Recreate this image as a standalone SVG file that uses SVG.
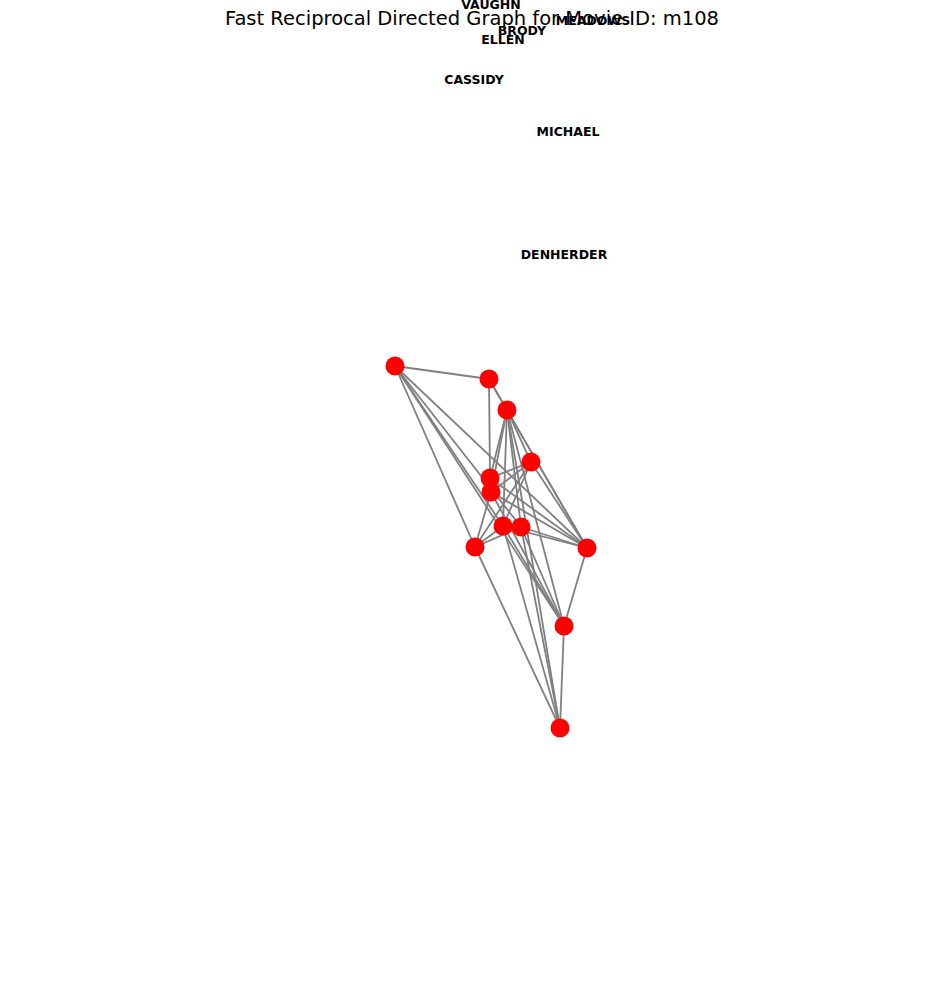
<svg xmlns="http://www.w3.org/2000/svg" width="944" height="986" viewBox="0 0 944 986">
<style>
.e{stroke:#808080;stroke-width:1.8;fill:none}
.n{fill:#ff0000}
.lbl{font-family:"DejaVu Sans",sans-serif;font-weight:bold;font-size:12.5px;text-anchor:middle;fill:#000}
.title{font-family:"DejaVu Sans",sans-serif;font-size:19.5px;text-anchor:middle;fill:#000}
</style>
<rect width="944" height="986" fill="#fff"/>
<text class="title" x="472" y="25">Fast Reciprocal Directed Graph for Movie ID: m108</text>
<g id="connectors">
<line class="e" x1="395" y1="366" x2="489" y2="379"/>
<line class="e" x1="395" y1="366" x2="475" y2="547"/>
<line class="e" x1="395" y1="366" x2="503" y2="526"/>
<line class="e" x1="395" y1="366" x2="521" y2="527"/>
<line class="e" x1="395" y1="366" x2="587" y2="548"/>
<line class="e" x1="395" y1="366" x2="564" y2="626"/>
<line class="e" x1="489" y1="379" x2="507" y2="410"/>
<line class="e" x1="489" y1="379" x2="587" y2="548"/>
<line class="e" x1="489" y1="379" x2="490" y2="478"/>
<line class="e" x1="507" y1="410" x2="490" y2="478"/>
<line class="e" x1="507" y1="410" x2="491" y2="492"/>
<line class="e" x1="507" y1="410" x2="503" y2="526"/>
<line class="e" x1="507" y1="410" x2="521" y2="527"/>
<line class="e" x1="507" y1="410" x2="531" y2="462"/>
<line class="e" x1="507" y1="410" x2="587" y2="548"/>
<line class="e" x1="507" y1="410" x2="564" y2="626"/>
<line class="e" x1="507" y1="410" x2="560" y2="728"/>
<line class="e" x1="531" y1="462" x2="490" y2="478"/>
<line class="e" x1="531" y1="462" x2="491" y2="492"/>
<line class="e" x1="531" y1="462" x2="503" y2="526"/>
<line class="e" x1="531" y1="462" x2="475" y2="547"/>
<line class="e" x1="531" y1="462" x2="587" y2="548"/>
<line class="e" x1="490" y1="478" x2="587" y2="548"/>
<line class="e" x1="491" y1="492" x2="475" y2="547"/>
<line class="e" x1="491" y1="492" x2="587" y2="548"/>
<line class="e" x1="491" y1="492" x2="564" y2="626"/>
<line class="e" x1="503" y1="526" x2="475" y2="547"/>
<line class="e" x1="503" y1="526" x2="587" y2="548"/>
<line class="e" x1="503" y1="526" x2="564" y2="626"/>
<line class="e" x1="503" y1="526" x2="560" y2="728"/>
<line class="e" x1="521" y1="527" x2="587" y2="548"/>
<line class="e" x1="521" y1="527" x2="564" y2="626"/>
<line class="e" x1="521" y1="527" x2="560" y2="728"/>
<line class="e" x1="475" y1="547" x2="521" y2="527"/>
<line class="e" x1="475" y1="547" x2="560" y2="728"/>
<line class="e" x1="587" y1="548" x2="564" y2="626"/>
<line class="e" x1="564" y1="626" x2="560" y2="728"/>
</g>
<g id="nodes">
<g id="n1"><circle class="n" cx="395" cy="366" r="9.5"/></g>
<g id="n2"><circle class="n" cx="489" cy="379" r="9.5"/></g>
<g id="n3"><circle class="n" cx="507" cy="410" r="9.5"/></g>
<g id="n4"><circle class="n" cx="531" cy="462" r="9.5"/></g>
<g id="n5"><circle class="n" cx="490" cy="478" r="9.5"/></g>
<g id="n6"><circle class="n" cx="491" cy="492" r="9.5"/></g>
<g id="n7"><circle class="n" cx="503" cy="526" r="9.5"/></g>
<g id="n8"><circle class="n" cx="521" cy="527" r="9.5"/></g>
<g id="n9"><circle class="n" cx="475" cy="547" r="9.5"/></g>
<g id="n10"><circle class="n" cx="587" cy="548" r="9.5"/></g>
<g id="n11"><circle class="n" cx="564" cy="626" r="9.5"/></g>
<g id="n12"><circle class="n" cx="560" cy="728" r="9.5"/></g>
</g>
<g id="labels">
<text class="lbl" x="491" y="8.5">VAUGHN</text>
<text class="lbl" x="593" y="24.5">MEADOWS</text>
<text class="lbl" x="522" y="34.5">BRODY</text>
<text class="lbl" x="503" y="43.5">ELLEN</text>
<text class="lbl" x="474" y="83.5">CASSIDY</text>
<text class="lbl" x="568" y="135.5">MICHAEL</text>
<text class="lbl" x="564" y="258.5">DENHERDER</text>
</g>
</svg>
